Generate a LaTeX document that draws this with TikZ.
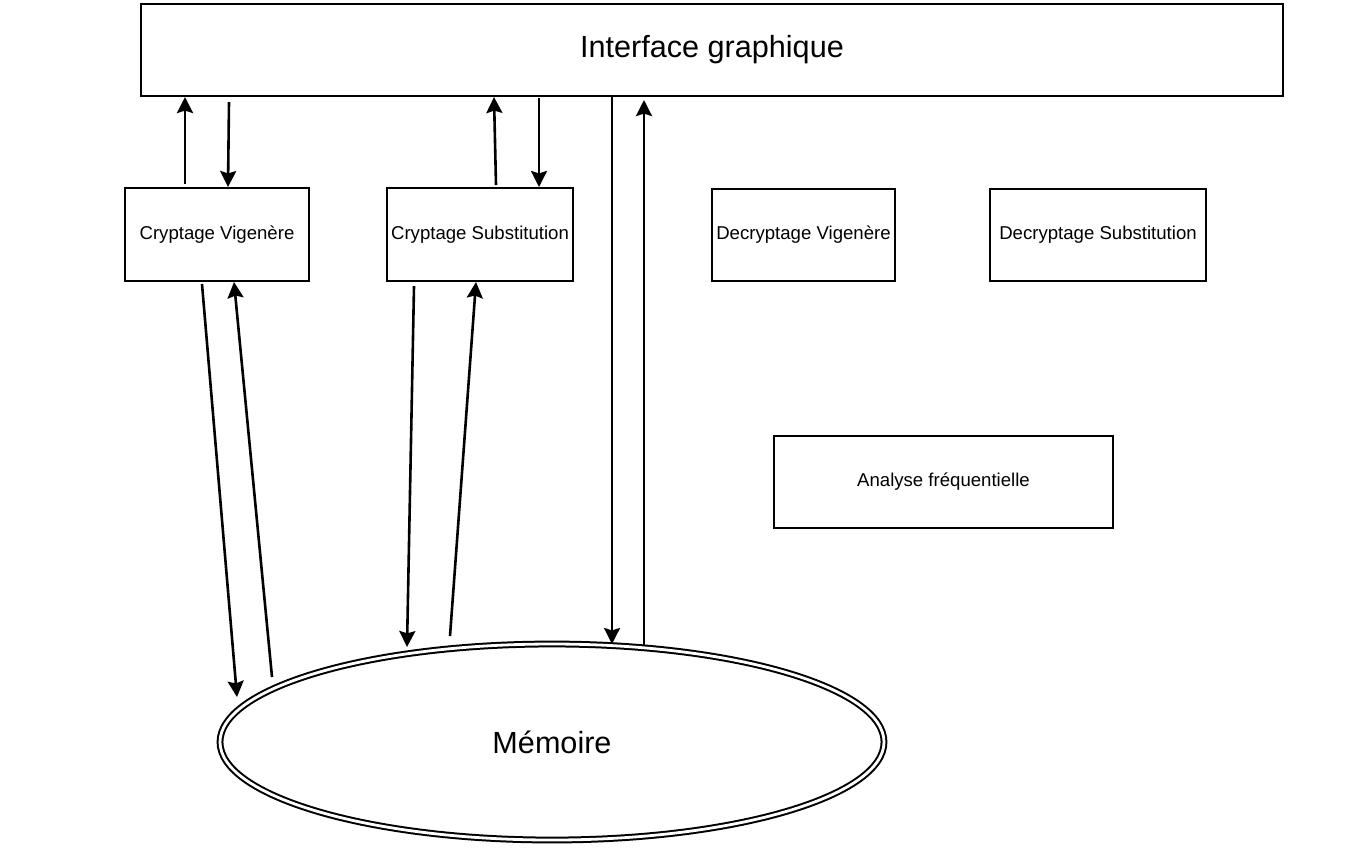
\documentclass[tikz,border=0pt]{standalone}
\usepackage{fontspec}
\setmainfont{Liberation Sans}
\usetikzlibrary{arrows.meta,shapes.geometric}
\begin{document}
\begin{tikzpicture}[x=0.5pt,y=-0.5pt,
  box/.style={draw,line width=1.1pt,rectangle,inner sep=0pt,font=\fontsize{9.3}{11}\selectfont},
  bigtext/.style={font=\fontsize{15.3}{17}\selectfont},
  arr/.style={line width=1.3pt,-{Stealth[length=8pt,width=8pt,inset=1.2pt]}}]
\useasboundingbox (0,0) rectangle (1368,853);
\node[box,bigtext,minimum width=571pt,minimum height=46pt] (iface) at (712,50) {Interface graphique};
\node[box,minimum width=92pt,minimum height=46.5pt] (cv) at (217,234.5) {Cryptage Vigenère};
\node[box,minimum width=93pt,minimum height=46.5pt] (cs) at (480,234.5) {Cryptage Substitution};
\node[box,minimum width=91.5pt,minimum height=46pt] (dv) at (803.5,235) {Decryptage Vigenère};
\node[box,minimum width=108pt,minimum height=46pt] (ds) at (1098,235) {Decryptage Substitution};
\node[box,minimum width=169.5pt,minimum height=46pt] (af) at (943.5,482) {Analyse fréquentielle};
\node[ellipse,draw,line width=1pt,double=white,double distance=1.4pt,bigtext,minimum width=332pt,minimum height=98pt,inner sep=0pt] (mem) at (552,742) {Mémoire};
% endpoints
\coordinate (a1s) at (185,184); \coordinate (a1e) at (185,97);
\coordinate (a2s) at (229,102); \coordinate (a2e) at (228,187);
\coordinate (a3s) at (496,185); \coordinate (a3e) at (494,97);
\coordinate (a4s) at (539,98);  \coordinate (a4e) at (539,187);
\coordinate (a5s) at (202,284); \coordinate (a5e) at (237,697);
\coordinate (a6s) at (272,677); \coordinate (a6e) at (234,282);
\coordinate (a7s) at (414,286); \coordinate (a7e) at (407,647);
\coordinate (a8s) at (450,636); \coordinate (a8e) at (476,282);
\coordinate (a9s) at (612,96);  \coordinate (a9e) at (612,644);
\coordinate (a10s) at (644,646); \coordinate (a10e) at (644,100);
\draw[arr] (a1s) -- (a1e);
\draw[arr] (a2s) -- (a2e);
\draw[arr] (a3s) -- (a3e);
\draw[arr] (a4s) -- (a4e);
\draw[arr] (a5s) -- (a5e);
\draw[arr] (a6s) -- (a6e);
\draw[arr] (a7s) -- (a7e);
\draw[arr] (a8s) -- (a8e);
\draw[arr] (a9s) -- (a9e);
\draw[arr] (a10s) -- (a10e);
\end{tikzpicture}
\end{document}
